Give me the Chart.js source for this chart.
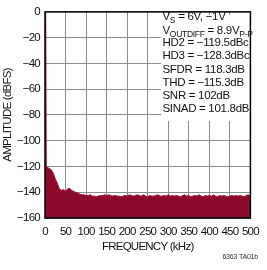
<!DOCTYPE html>
<html>
<head>
<meta charset="utf-8">
<script src="https://cdn.jsdelivr.net/npm/chart.js@4/dist/chart.umd.min.js"></script>
<style>
  html, body { margin: 0; padding: 0; background: #fff; }
  #wrap { width: 267px; height: 270px; position: relative; }
</style>
</head>
<body>
<div id="wrap"><canvas id="c" width="267" height="270"></canvas></div>
<script>
// ---- data ----
const freqKHz = [0, 1, 2, 3, 5, 10, 15, 20, 25, 30, 35, 40, 45, 50, 55, 60, 65, 70, 75, 80, 85, 90, 95,
  100, 105, 110, 115, 120, 125, 130, 135, 140, 145, 150, 155, 160, 165, 170, 175, 180, 185, 190, 195,
  200, 205, 210, 215, 220, 225, 230, 235, 240, 245, 250, 255, 260, 265, 270, 275, 280, 285, 290, 295,
  300, 305, 310, 315, 320, 325, 330, 335, 340, 345, 350, 355, 360, 365, 370, 375, 380, 385, 390, 395,
  400, 405, 410, 415, 420, 425, 430, 435, 440, 445, 450, 455, 460, 465, 470, 475, 480, 485, 490, 495, 500];
const amplitudeDBFS = [-121, -121, 0, -120, -120.5, -121.5, -122.5, -125, -129.5, -133, -137.5, -138.5, -138, -139, -137.5,
  -137, -138.5, -139.5, -140, -140.5, -141.5, -142, -142,
  -142.5, -142.5, -142, -143, -143, -143.5, -143, -142.5, -142.5, -142, -142.5, -142, -142.5, -143, -142.5, -143, -143, -143.5, -143, -142.5,
  -143, -142, -142.5, -143, -142.5, -142, -142.5, -143, -142, -143, -143.5, -142.5, -143, -143, -142.5, -142, -143, -143, -142.5, -143,
  -142, -143, -142.5, -143, -142.5, -143, -143.5, -142.5, -142, -143, -142.5, -143.5, -143, -142.5, -143, -142, -143, -143.5, -142.5, -143,
  -142.5, -143, -142, -143, -143.5, -142.5, -143, -142.5, -143, -143.5, -143, -142.5, -143, -142.5, -143, -142.5, -143, -143.5, -142.5, -142, -143];
const xTicks = [0, 50, 100, 150, 200, 250, 300, 350, 400, 450, 500];
const yTicks = [0, -20, -40, -60, -80, -100, -120, -140, -160];
const xTitle = 'FREQUENCY (kHz)';
const yTitle = 'AMPLITUDE (dBFS)';
const noteLines = [
  [['V', 0], ['S', 1], [' = 6V, \u22121V', 0]],
  [['V', 0], ['OUTDIFF', 1], [' = 8.9V', 0], ['P-P', 1]],
  [['HD2 = \u2212119.5dBc', 0]],
  [['HD3 = \u2212128.3dBc', 0]],
  [['SFDR = 118.3dB', 0]],
  [['THD = \u2212115.3dB', 0]],
  [['SNR = 102dB', 0]],
  [['SINAD = 101.8dB', 0]]
];
const footnote = '6363 TA01b';

// ---- styling ----
const FONT = "'Liberation Sans', Arial, sans-serif";
const FILL = '#8a0a2e';
const EDGE = '#a8123c';
const GRID = '#8c8c8c';

const points = freqKHz.map((f, i) => ({ x: f, y: amplitudeDBFS[i] }));

const overlay = {
  id: 'overlay',
  beforeDraw(chart) {
    chart.ctx.letterSpacing = '-0.75px';
  },
  beforeDatasetsDraw(chart) {
    const ctx = chart.ctx;
    const a = chart.chartArea;
    ctx.save();
    ctx.fillStyle = '#fff';
    ctx.fillRect(a.left + 116, a.top + 3, 93, 106);
    ctx.restore();
  },
  afterDatasetsDraw(chart) {
    const ctx = chart.ctx;
    const a = chart.chartArea;
    ctx.save();
    ctx.strokeStyle = '#000';
    ctx.lineWidth = 1.5;
    ctx.strokeRect(a.left, a.top, a.right - a.left, a.bottom - a.top);
    // notes
    const baselines = [20, 34, 46, 59, 73, 86, 99, 112];
    ctx.fillStyle = '#111';
    ctx.textBaseline = 'alphabetic';
    ctx.textAlign = 'left';
    ctx.letterSpacing = '-0.3px';
    noteLines.forEach((segs, i) => {
      let x = 162.5;
      const y = baselines[i];
      segs.forEach(([t, sub]) => {
        ctx.font = (sub ? '8.5px ' : '11.5px ') + FONT;
        ctx.fillText(t, x, sub ? y + 3 : y);
        x += ctx.measureText(t).width;
      });
    });
    ctx.letterSpacing = '-0.2px';
    ctx.font = '7px ' + FONT;
    ctx.textAlign = 'right';
    ctx.fillStyle = '#333';
    ctx.fillText(footnote, 258, 259);
    ctx.restore();
    ctx.letterSpacing = '-0.75px';
  }
};

new Chart(document.getElementById('c'), {
  type: 'line',
  data: {
    datasets: [{
      data: points,
      borderColor: EDGE,
      borderWidth: 1,
      backgroundColor: FILL,
      fill: 'start',
      pointRadius: 0,
      tension: 0
    }]
  },
  options: {
    responsive: false,
    animation: false,
    devicePixelRatio: 1,
    layout: { padding: { top: 7, right: 10, left: 0, bottom: 0 } },
    plugins: { legend: { display: false }, tooltip: { enabled: false } },
    scales: {
      x: {
        type: 'linear',
        min: 0, max: 500,
        afterFit(s) { s.height = 52; },
        afterBuildTicks(s) { s.ticks = xTicks.map(v => ({ value: v })); },
        grid: { color: GRID, lineWidth: 1, drawTicks: false },
        border: { display: false },
        ticks: { color: '#111', padding: 7, maxRotation: 0, autoSkip: false, font: { family: FONT, size: 11.5 } },
        title: { display: true, text: xTitle, color: '#111', font: { family: FONT, size: 11.5 }, padding: { top: 0, bottom: 16 } }
      },
      y: {
        type: 'linear',
        min: -160, max: 0,
        afterFit(s) { s.width = 45; },
        afterBuildTicks(s) { s.ticks = yTicks.map(v => ({ value: v })); },
        grid: { color: GRID, lineWidth: 1, drawTicks: false },
        border: { display: false },
        ticks: { color: '#111', padding: 5, font: { family: FONT, size: 11.5 },
          callback: v => String(v).replace('-', '\u2212') },
        title: { display: true, text: yTitle, color: '#111', font: { family: FONT, size: 11.5 }, padding: { top: 1, bottom: 0 } }
      }
    }
  },
  plugins: [overlay]
});
</script>
</body>
</html>
